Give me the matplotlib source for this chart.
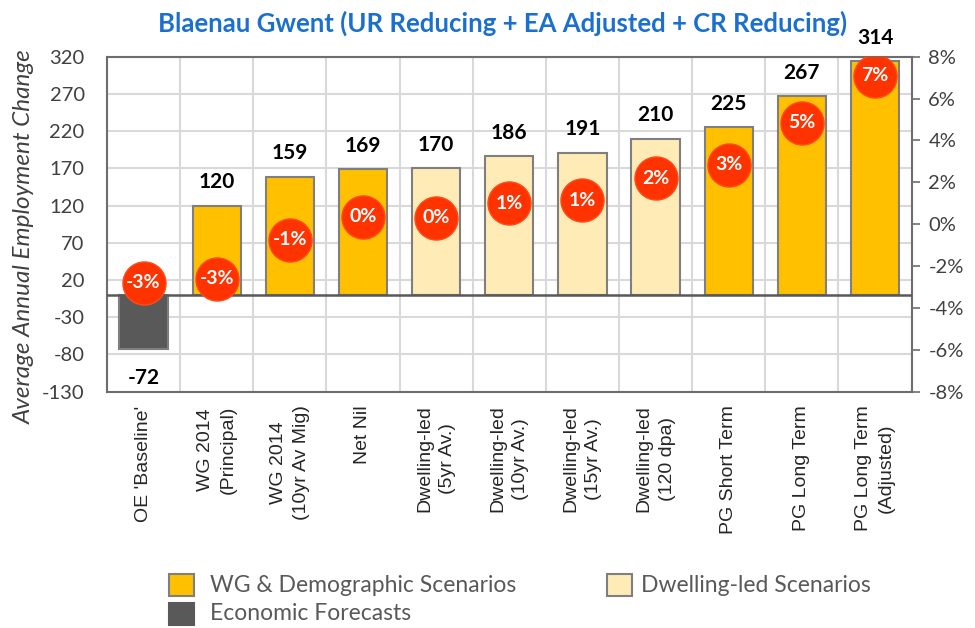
import matplotlib.pyplot as plt
from matplotlib.patches import Rectangle
from matplotlib.ticker import FixedLocator

plt.rcParams['axes.unicode_minus'] = False

# Data
categories = ["OE 'Baseline'", "WG 2014\n(Principal)", "WG 2014\n(10yr Av Mig)", "Net Nil",
              "Dwelling-led\n(5yr Av.)", "Dwelling-led\n(10yr Av.)", "Dwelling-led\n(15yr Av.)",
              "Dwelling-led\n(120 dpa)", "PG Short Term", "PG Long Term", "PG Long Term\n(Adjusted)"]
jobs = [-72, 120, 159, 169, 170, 186, 191, 210, 225, 267, 314]
groups = ['econ', 'wg', 'wg', 'wg', 'dwell', 'dwell', 'dwell', 'dwell', 'wg', 'wg', 'wg']
pct_values = [-2.8, -2.6, -0.75, 0.35, 0.3, 1.0, 1.15, 2.2, 2.85, 4.85, 7.1]
pct_labels = ['-3%', '-3%', '-1%', '0%', '0%', '1%', '1%', '2%', '3%', '5%', '7%']

colors = {'wg': '#FFC000', 'dwell': '#FFEBB5', 'econ': '#595959'}
labels = {'wg': 'WG & Demographic Scenarios', 'dwell': 'Dwelling-led Scenarios',
          'econ': 'Economic Forecasts'}

font = 'Lato'
grey = '#404040'

fig = plt.figure(figsize=(9.75, 6.28), dpi=100)
W, H = 975, 628
ax = fig.add_axes([0.1097, 0.3763, 0.8253, 0.5334])
x = list(range(len(categories)))

ax.bar(x, jobs, width=0.66, color=[colors[g] for g in groups],
       edgecolor='#7F7F7F', linewidth=1.5, zorder=3)
ax.axhline(0, color='#595959', linewidth=1.8, zorder=4)

for xi, v in zip(x, jobs):
    off = 17 if v >= 0 else -21
    ax.annotate(str(v), (xi, v), xytext=(0, off), textcoords='offset points',
                ha='center', va='center', fontsize=15, fontweight='bold',
                family=font, color='black', zorder=6)

ax.set_xlim(-0.5, len(categories) - 0.5)
ax.set_ylim(-130, 320)
ax.set_yticks(range(-130, 321, 50))
ax.set_xticks(x)
ax.set_xticklabels(categories, rotation=90, family='Liberation Sans', fontsize=14,
                   color='#262626', linespacing=1.45)
ax.xaxis.set_minor_locator(FixedLocator([i + 0.5 for i in x[:-1]]))
ax.tick_params(axis='x', which='both', length=0, pad=10)
ax.tick_params(axis='y', length=0, pad=16, labelsize=14.5, labelcolor=grey)
for t in ax.get_yticklabels():
    t.set_family(font)
ax.grid(axis='y', color='#D9D9D9', linewidth=1.5, zorder=0)
ax.grid(axis='x', which='minor', color='#D9D9D9', linewidth=1.5, zorder=0)
for s in ax.spines.values():
    s.set_color('#6D6D6D')
    s.set_linewidth(1.5)
ax.set_ylabel('Average Annual Employment Change', family=font, style='italic',
              fontsize=17.5, color=grey)
ax.yaxis.set_label_coords(-0.09, 0.462)

ax2 = ax.twinx()
ax2.set_ylim(-8, 8)
ax2.set_yticks(range(-8, 9, 2))
ax2.set_yticklabels([f'{t}%' for t in range(-8, 9, 2)], family=font)
ax2.tick_params(axis='y', length=6, width=1.2, color='#6D6D6D', pad=6,
                labelsize=14.5, labelcolor=grey)
for s in ax2.spines.values():
    s.set_visible(False)
ax2.plot(x, pct_values, linestyle='none', marker='o', markersize=31,
         markerfacecolor='#FF3300', markeredgecolor='#FF4A1A', zorder=5)
for xi, v, lab in zip(x, pct_values, pct_labels):
    ax2.text(xi, v, lab, ha='center', va='center', color='white', fontsize=14,
             fontweight='bold', family=font, zorder=6)

fig.text(0.515, 0.963, 'Blaenau Gwent (UR Reducing + EA Adjusted + CR Reducing)',
         ha='center', va='center', fontsize=18.5, fontweight='bold', family=font,
         color='#1A6FCF')

# legend drawn by hand: (key, patch left px, text left px, row centre px)
legend_items = [('wg', 169, 210, 585), ('dwell', 607, 641, 585), ('econ', 169, 210, 614)]
for key, px, tx, py in legend_items:
    ec = '#7F7F7F' if key != 'econ' else colors[key]
    fig.add_artist(Rectangle((px / W, 1 - (py + 11) / H), 25 / W, 22 / H,
                             transform=fig.transFigure, facecolor=colors[key],
                             edgecolor=ec, linewidth=1.5))
    fig.text(tx / W, 1 - py / H, labels[key], ha='left', va='center',
             family=font, fontsize=16.5, color='#595959')

fig.savefig('out.png', dpi=100)
